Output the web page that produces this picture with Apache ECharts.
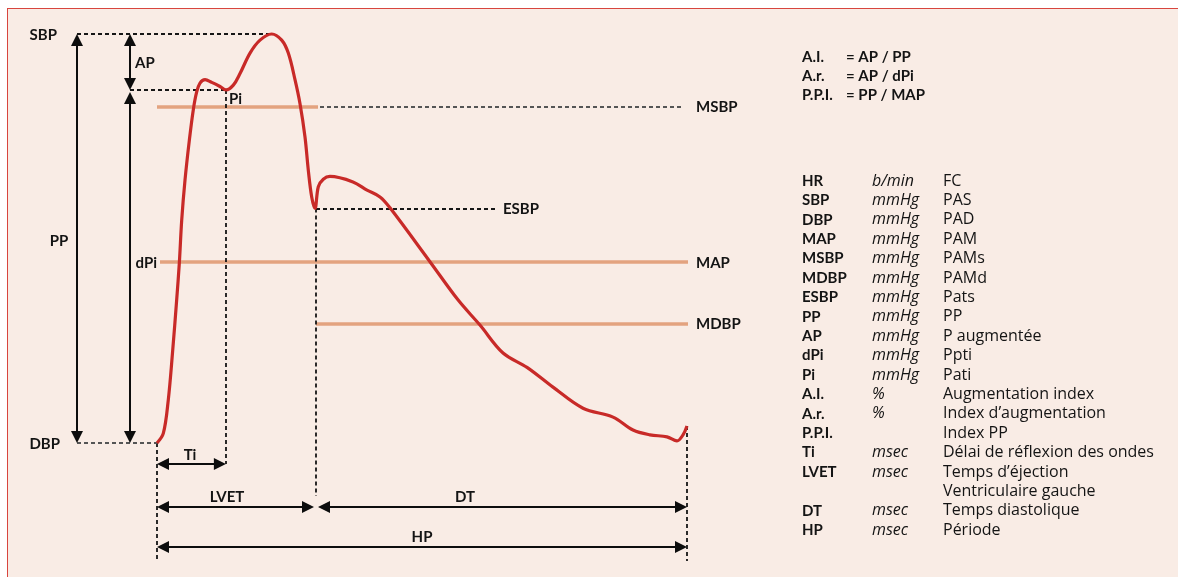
<!DOCTYPE html>
<html>
<head>
<meta charset="utf-8">
<script src="https://cdn.jsdelivr.net/npm/echarts@6/dist/echarts.min.js"></script>
<style>
  html, body { margin: 0; padding: 0; background: #fff; }
  #wrap { position: relative; width: 1178px; height: 577px; overflow: hidden; }
  #panel {
    position: absolute; left: 7px; top: 8px; right: -2px; bottom: -2px;
    background: #f9ece5;
    border-left: 1.5px solid #d8453e;
    border-top: 1.5px solid #d8453e;
  }
  #pulseChart { position: absolute; left: 0; top: 0; width: 1178px; height: 577px; }
</style>
</head>
<body>
<div id="wrap">
  <div id="panel"></div>
  <div id="pulseChart"></div>
</div>
<script>
// pulse wave : time in ms from the foot of the wave, pressure in mmHg
let curveTime = [0, 9.5, 17, 23.7, 29.7, 33.7, 37.3, 42.3, 48.8, 54.8, 59.9, 64.9, 72.5, 82.6, 95.1, 104.2,
  115.2, 125.3, 140.4, 155.5, 173.1, 188.2, 198.2, 208.3, 215.8, 223.4, 228.4, 233.5, 238.5, 243.5, 251,
  261.1, 295.8, 317, 336.6, 351.7, 412, 454.3, 487.5, 522.3, 558.5, 597.7, 643, 688.3, 718.5, 744.1,
  769.8, 784.9, 794, 800]
let curvePressure = [70, 71.4, 76.3, 83.6, 91, 96.4, 102.7, 108.6, 114.4, 118.9, 121.5, 122.8, 123.3, 122.9,
  122.3, 121.8, 122.5, 124.2, 127.2, 129.1, 130, 129.1, 127.2, 123.3, 119.8, 114.9, 110, 106.1, 104.4,
  107.6, 108.7, 109.1, 108.3, 107.1, 106.1, 104.5, 96.6, 91, 87.3, 83.2, 81.1, 78.2, 75.1, 73.8, 71.9,
  71.2, 70.9, 70.3, 71.2, 72.5]

// reference levels (mmHg) and times (ms)
let SBP = 130
let DBP = 70
let Pi = 121.8
let MSBP = 119.4
let MAP = 96.6
let MDBP = 87.5
let ESBP = 104.4
let peakTime = 173
let Ti = 104
let LVET = 240
let HP = 800

// text on the right
let formulaNames = ['A.I.', 'A.r.', 'P.P.I.']
let formulaExprs = ['= AP / PP', '= AP / dPi', '= PP / MAP']
let glossAbbr = ['HR', 'SBP', 'DBP', 'MAP', 'MSBP', 'MDBP', 'ESBP', 'PP', 'AP', 'dPi', 'Pi', 'A.I.', 'A.r.',
  'P.P.I.', 'Ti', 'LVET', '', 'DT', 'HP']
let glossUnit = ['b/min', 'mmHg', 'mmHg', 'mmHg', 'mmHg', 'mmHg', 'mmHg', 'mmHg', 'mmHg', 'mmHg', 'mmHg', '%', '%',
  '', 'msec', 'msec', '', 'msec', 'msec']
let glossText = ['FC', 'PAS', 'PAD', 'PAM', 'PAMs', 'PAMd', 'Pats', 'PP', 'P augmentée', 'Ppti', 'Pati',
  'Augmentation index', 'Index d\u2019augmentation', 'Index PP', 'Délai de réflexion des ondes',
  'Temps d\u2019éjection', 'Ventriculaire gauche', 'Temps diastolique', 'Période']

let W = 1178
let H = 577
let X0 = 157
let Y0 = 443
let pxPerMs = 530 / HP
let pxPerMmHg = 409 / (SBP - DBP)
function t (px) { return (px - X0) / pxPerMs }
function p (py) { return DBP + (Y0 - py) / pxPerMmHg }
function py (v) { return Y0 - (v - DBP) * pxPerMmHg }

// arrow with both tips landing on the given ends
let tip = 6
function arrow (a, b) {
  let dx = (b[0] - a[0]) * pxPerMs
  let dy = (b[1] - a[1]) * pxPerMmHg
  let len = Math.sqrt(dx * dx + dy * dy)
  let ux = dx / len * tip / pxPerMs
  let uy = dy / len * tip / pxPerMmHg
  return { coords: [[a[0] + ux, a[1] + uy], [b[0] - ux, b[1] - uy]] }
}

let colPP = t(77)
let colAP = t(130)
let yTi = p(464)
let yLvet = p(507)
let yHp = p(547)
let gap = 2 / pxPerMs

let labelFont = 'bold 15px Lato'
let ink = '#141414'
let texts = []
function label (str, x, y, align, font) {
  texts.push({
    type: 'text',
    style: {
      text: str, x: x, y: y, font: font || labelFont, fill: ink,
      textAlign: align || 'left', align: align || 'left',
      textVerticalAlign: 'middle', verticalAlign: 'middle'
    }
  })
}

label('SBP', 57, 35, 'right')
label('DBP', 60, 444, 'right')
label('PP', 59, 241, 'center')
label('AP', 135, 63)
label('dPi', 157, 263, 'right')
label('Pi', 229, 99)
label('MSBP', 696, 107)
label('ESBP', 503, 209)
label('MAP', 696, 263)
label('MDBP', 696, 324)
label('Ti', 190, 455, 'center')
label('LVET', 227, 497, 'center')
label('DT', 465, 497, 'center')
label('HP', 422, 537, 'center')

formulaNames.forEach(function (n, i) {
  label(n, 802, 57 + i * 19, 'left')
  label(formulaExprs[i], 846, 57 + i * 19, 'left')
})
glossAbbr.forEach(function (n, i) {
  let y = 181 + i * 19.4
  label(n, 802, y, 'left')
  label(glossUnit[i], 872, y, 'left', 'italic 16px "Open Sans"')
  label(glossText[i], 943, y, 'left', '16px "Open Sans"')
})

let chart = echarts.init(document.getElementById('pulseChart'))
chart.setOption({
  animation: false,
  grid: { left: 0, right: 0, top: 0, bottom: 0 },
  xAxis: { type: 'value', min: t(0), max: t(W), show: false },
  yAxis: { type: 'value', min: p(H), max: p(0), show: false },
  graphic: { elements: texts },
  series: [
    {
      name: 'levels',
      type: 'lines',
      coordinateSystem: 'cartesian2d',
      silent: true,
      z: 2,
      lineStyle: { color: '#e3a37f', width: 3.5, opacity: 1 },
      data: [
        { coords: [[0, MSBP], [t(318), MSBP]] },
        { coords: [[t(160), MAP], [t(688), MAP]] },
        { coords: [[LVET, MDBP], [t(688), MDBP]] }
      ]
    },
    {
      name: 'guides',
      type: 'lines',
      coordinateSystem: 'cartesian2d',
      silent: true,
      z: 3,
      lineStyle: { color: '#161616', width: 1.8, type: [4, 3], opacity: 1 },
      data: [
        { coords: [[colPP, SBP], [peakTime, SBP]] },
        { coords: [[colAP, Pi], [Ti, Pi]] },
        { coords: [[Ti, Pi], [Ti, yTi]] },
        { coords: [[LVET, ESBP], [t(498), ESBP]] },
        { coords: [[LVET, ESBP], [LVET, p(496)]] },
        { coords: [[0, DBP], [0, p(561)]] },
        { coords: [[HP, curvePressure[curvePressure.length - 1]], [HP, p(561)]] },
        { coords: [[colPP, DBP], [0, DBP]], lineStyle: { color: '#555' } },
        { coords: [[t(320), MSBP], [t(683), MSBP]], lineStyle: { color: '#555' } }
      ]
    },
    {
      name: 'arrows',
      type: 'lines',
      coordinateSystem: 'cartesian2d',
      silent: true,
      z: 4,
      symbol: ['triangle', 'triangle'],
      symbolSize: 12,
      lineStyle: { color: '#0d0d0d', width: 2, opacity: 1 },
      data: [
        arrow([colPP, SBP], [colPP, DBP]),
        arrow([colAP, SBP], [colAP, Pi]),
        arrow([colAP, p(py(Pi) + 2)], [colAP, DBP]),
        arrow([0, yTi], [Ti, yTi]),
        arrow([0, yLvet], [LVET - gap, yLvet]),
        arrow([LVET + gap, yLvet], [HP, yLvet]),
        arrow([0, yHp], [HP, yHp])
      ]
    },
    {
      name: 'pression',
      type: 'line',
      z: 5,
      smooth: 0.35,
      symbol: 'none',
      lineStyle: { color: '#c82a28', width: 3.2 },
      data: curveTime.map(function (v, i) { return [v, curvePressure[i]] })
    }
  ]
})
</script>
</body>
</html>
